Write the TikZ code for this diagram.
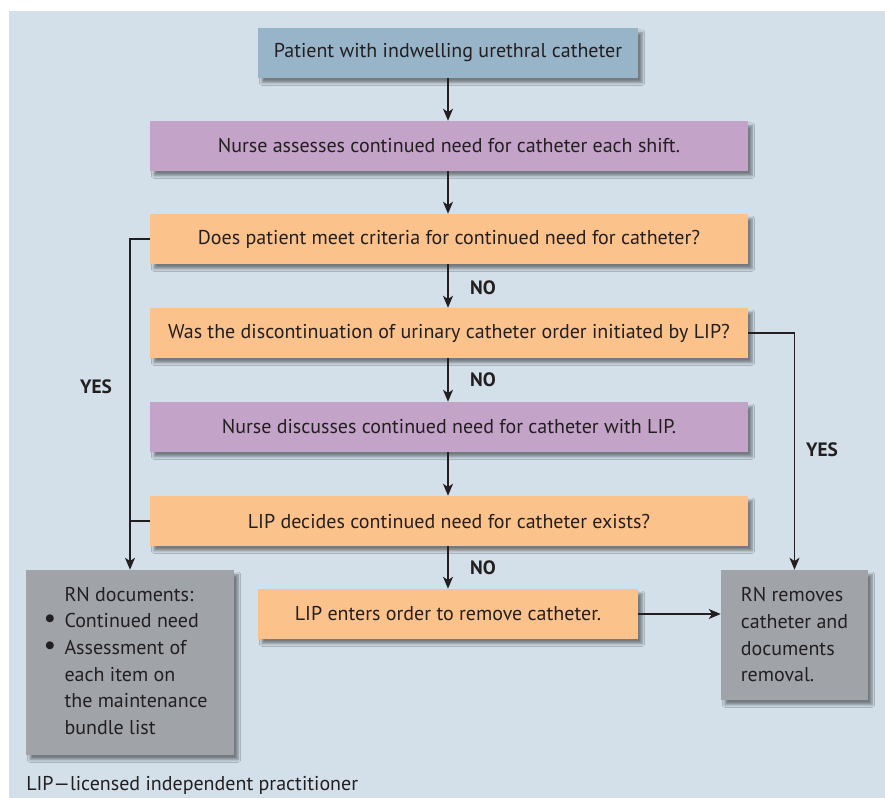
\documentclass[tikz,border=0pt]{standalone}
\usepackage{fontspec}
\setmainfont{PT Sans}
\usetikzlibrary{arrows.meta,shadows.blur}
\definecolor{bgc}{HTML}{D3E0EA}
\definecolor{bluec}{HTML}{97B4C9}
\definecolor{purplec}{HTML}{C3A3C7}
\definecolor{orangec}{HTML}{FBC28C}
\definecolor{grayc}{HTML}{A0A3A8}
\definecolor{txt}{HTML}{231F20}
\newcommand{\bigbul}{{\fontsize{21}{20}\selectfont\textbullet}}
\tikzset{
  box/.style={rectangle, inner sep=0pt, minimum height=37.5pt, text=txt,
    font=\fontsize{15}{20}\selectfont,
    blur shadow={shadow xshift=3pt, shadow yshift=-3.5pt, shadow blur steps=6, shadow opacity=45}},
  wide/.style={box, minimum width=448.5pt},
  narrow/.style={box, minimum width=285pt},
  graybox/.style={box, fill=grayc, align=left},
  conn/.style={draw=txt, line width=0.9pt},
  arr/.style={conn, -{Stealth[length=9pt,width=7.5pt,inset=2.5pt]}},
  lbl/.style={text=txt, font=\fontsize{14.5}{16}\selectfont\bfseries},
}
\begin{document}
\begin{tikzpicture}[x=0.75pt,y=-0.75pt]
\useasboundingbox (0,0) rectangle (885,798);
\fill[bgc] (9,11) rectangle (885,798);

\node[narrow, fill=bluec]   (b1) at (448,53)  {Patient with indwelling urethral catheter};
\node[wide, fill=purplec]   (b2) at (449,146) {Nurse assesses continued need for catheter each shift.};
\node[wide, fill=orangec]   (b3) at (449,239) {Does patient meet criteria for continued need for catheter?};
\node[wide, fill=orangec]   (b4) at (449,333) {Was the discontinuation of urinary catheter order initiated by LIP?};
\node[wide, fill=purplec]   (b5) at (449,427) {Nurse discusses continued need for catheter with LIP.};
\node[wide, fill=orangec]   (b6) at (449,521) {LIP decides continued need for catheter exists?};
\node[narrow, fill=orangec] (b7) at (448,614) {LIP enters order to remove catheter.};

\node[graybox, minimum width=156pt, minimum height=138.75pt] (gl) at (130,662.5)
  {\hspace*{-6.75pt}\begin{tabular}{@{}p{15.75pt}@{}l@{}}
   & RN documents:\\
   \bigbul & Continued need\\
   \bigbul & Assessment of\\
   & each item on\\
   & the maintenance\\
   & bundle list
   \end{tabular}};
\node[graybox, minimum width=110.25pt, minimum height=97.5pt] (gr) at (794.5,635)
  {RN removes\\catheter and\\documents\\removal.};

\draw[arr] (b1.south -| 448,0) -- (b2.north -| 448,0);
\draw[arr] (b2.south -| 448,0) -- (b3.north -| 448,0);
\draw[arr] (b3.south -| 448,0) -- (b4.north -| 448,0);
\draw[arr] (b4.south -| 448,0) -- (b5.north -| 448,0);
\draw[arr] (b5.south -| 448,0) -- (b6.north -| 448,0);
\draw[arr] (b6.south -| 448,0) -- (b7.north -| 448,0);

\draw[arr] (b3.west) -| (gl.north);
\draw[conn] (b6.west) -- (b6.west -| gl.north);
\draw[arr] (b4.east) -| (gr.north);
\draw[arr] (b7.east) -- (b7.east -| gr.west);

\node[lbl] (no1) at (483,288) {NO};
\node[lbl] (no2) at (483,380) {NO};
\node[lbl] (no3) at (483,568) {NO};
\node[lbl] (yes1) at (96,387) {YES};
\node[lbl] (yes2) at (822,450) {YES};

\node[text=txt, font=\fontsize{15}{16}\selectfont, anchor=west, inner sep=0pt] (foot) at (26,785)
  {LIP\textemdash licensed independent practitioner};
\end{tikzpicture}
\end{document}
